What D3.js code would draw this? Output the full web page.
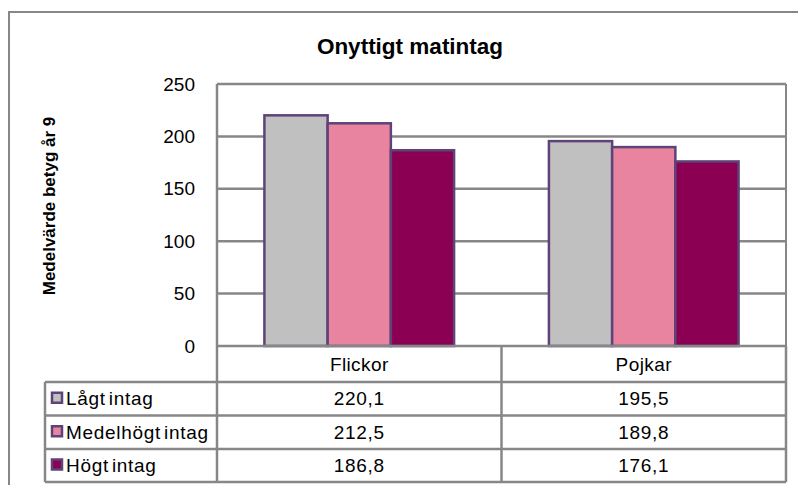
<!DOCTYPE html>
<html>
<head>
<meta charset="utf-8">
<script src="https://cdn.jsdelivr.net/npm/d3@7"></script>
<style>
  html, body { margin: 0; padding: 0; background: #fff; }
  svg { display: block; font-family: "Liberation Sans", Arial, sans-serif; }
</style>
</head>
<body>
<svg id="chart" width="798" height="485"></svg>
<script>
// Data
const categories = ["Flickor", "Pojkar"];
const seriesNames = ["Lågt intag", "Medelhögt intag", "Högt intag"];
const lagtIntag = [220.1, 195.5];
const medelhogtIntag = [212.5, 189.8];
const hogtIntag = [186.8, 176.1];
const yTicks = [0, 50, 100, 150, 200, 250];
const seriesColors = ["#C0C0C0", "#E8849F", "#8B0052"];

const seriesValues = [lagtIntag, medelhogtIntag, hogtIntag];
const fmt = v => d3.format(".1f")(v).replace(".", ",");

const svg = d3.select("#chart");
const gridColor = "#878787";
const barStroke = "#5E4378";
const labelSize = 19;

// Plot area geometry
const plot = { left: 217, right: 786, top: 84, bottom: 346 };
const rowEdges = [346, 382, 415.5, 449, 482];
const tableLeft = 45;

// Outer frame
svg.append("rect")
  .attr("x", 9).attr("y", 12)
  .attr("width", 800).attr("height", 500)
  .attr("fill", "#fff")
  .attr("stroke", gridColor).attr("stroke-width", 2);

// Title
svg.append("text")
  .attr("x", 410).attr("y", 54)
  .attr("text-anchor", "middle")
  .attr("font-weight", "bold")
  .attr("font-size", 22.5)
  .text("Onyttigt matintag");

// Scales
const y = d3.scaleLinear().domain([0, 250]).range([plot.bottom, plot.top]);
const x0 = d3.scaleBand().domain(categories).range([plot.left, plot.right]).paddingInner(0).paddingOuter(0);
const x1 = d3.scaleBand().domain(d3.range(seriesNames.length))
  .range([0, x0.bandwidth()]).paddingOuter(0.75).paddingInner(0);

// Gridlines
svg.append("g").selectAll("line")
  .data(yTicks.filter(t => t > 0))
  .join("line")
  .attr("x1", plot.left).attr("x2", plot.right)
  .attr("y1", d => y(d)).attr("y2", d => y(d))
  .attr("stroke", gridColor).attr("stroke-width", 2.5);

// Plot area right edge
svg.append("line")
  .attr("x1", plot.right).attr("x2", plot.right)
  .attr("y1", plot.top).attr("y2", plot.bottom)
  .attr("stroke", gridColor).attr("stroke-width", 2);

// Y axis
const yAxis = d3.axisLeft(y).tickValues(yTicks).tickSize(0).tickPadding(22);
const gy = svg.append("g").attr("transform", `translate(${plot.left},0)`).call(yAxis);
gy.select(".domain").remove();
gy.selectAll("text")
  .attr("font-size", labelSize)
  .attr("font-family", "Liberation Sans, Arial, sans-serif")
  .attr("fill", "#000");

// Y axis title
svg.append("text")
  .attr("transform", `translate(55,${(plot.top + plot.bottom) / 2 - 9}) rotate(-90)`)
  .attr("text-anchor", "middle")
  .attr("font-weight", "bold")
  .attr("font-size", 17)
  .text("Medelvärde betyg år 9");

// Bars
const groups = svg.append("g").selectAll("g")
  .data(categories)
  .join("g")
  .attr("transform", d => `translate(${x0(d)},0)`);

groups.selectAll("rect")
  .data((d, ci) => seriesValues.map((vals, si) => ({ si, v: vals[ci] })))
  .join("rect")
  .attr("x", d => x1(d.si))
  .attr("y", d => y(d.v))
  .attr("width", x1.bandwidth())
  .attr("height", d => plot.bottom - y(d.v))
  .attr("fill", d => seriesColors[d.si])
  .attr("stroke", barStroke)
  .attr("stroke-width", 2.5);

// Data table
const table = svg.append("g");
const lineAttrs = sel => sel.attr("stroke", gridColor).attr("stroke-width", 2.5);

// Horizontal table lines
rowEdges.forEach((ry, i) => {
  table.append("line")
    .attr("x1", i === 0 ? plot.left : tableLeft).attr("x2", plot.right)
    .attr("y1", ry).attr("y2", ry)
    .call(lineAttrs);
});
// Vertical table lines
table.append("line").attr("x1", plot.left).attr("x2", plot.left)
  .attr("y1", plot.top).attr("y2", rowEdges[4]).call(lineAttrs);
table.append("line").attr("x1", tableLeft).attr("x2", tableLeft)
  .attr("y1", rowEdges[1]).attr("y2", rowEdges[4]).call(lineAttrs);
categories.forEach(c => {
  table.append("line")
    .attr("x1", x0(c) + x0.bandwidth()).attr("x2", x0(c) + x0.bandwidth())
    .attr("y1", rowEdges[0]).attr("y2", rowEdges[4]).call(lineAttrs);
});

// Category header
table.selectAll("text.cat")
  .data(categories)
  .join("text")
  .attr("class", "cat")
  .attr("x", d => x0(d) + x0.bandwidth() / 2)
  .attr("y", (rowEdges[0] + rowEdges[1]) / 2 + 7)
  .attr("text-anchor", "middle")
  .attr("font-size", labelSize)
  .attr("letter-spacing", 0.4)
  .text(d => d);

// Series rows
seriesNames.forEach((name, si) => {
  const top = rowEdges[si + 1], bot = rowEdges[si + 2];
  const mid = (top + bot) / 2;
  table.append("rect")
    .attr("x", 52).attr("y", mid - 6)
    .attr("width", 10).attr("height", 10)
    .attr("fill", seriesColors[si])
    .attr("stroke", barStroke).attr("stroke-width", 2.5);
  table.append("text")
    .attr("x", 66).attr("y", mid + 6.5)
    .attr("font-size", labelSize)
    .attr("letter-spacing", 0.7)
    .attr("word-spacing", -3)
    .text(name);
  categories.forEach((c, ci) => {
    table.append("text")
      .attr("x", x0(c) + x0.bandwidth() / 2)
      .attr("y", mid + 6.5)
      .attr("text-anchor", "middle")
      .attr("font-size", labelSize)
      .attr("letter-spacing", 0.7)
      .text(fmt(seriesValues[si][ci]));
  });
});
</script>
</body>
</html>
